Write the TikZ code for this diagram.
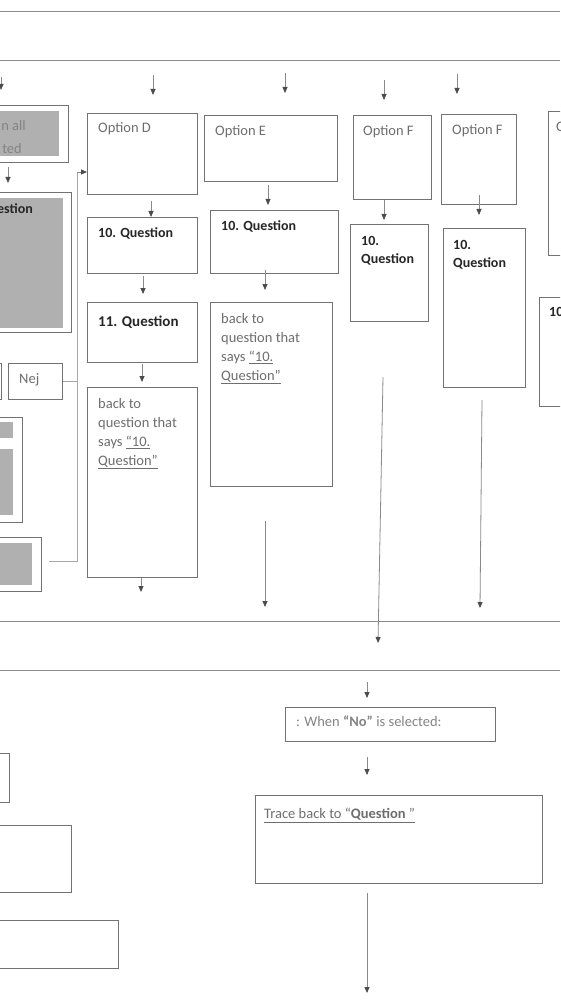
\documentclass[tikz,border=0pt]{standalone}
\usepackage{fontspec}
\setmainfont{Carlito}
\usepackage{tikz}
\usetikzlibrary{arrows.meta}
\usepackage{xcolor}

\definecolor{boxgray}{HTML}{727272}
\definecolor{linegray}{HTML}{8A8A8A}
\definecolor{fillgray}{HTML}{B0B0B0}
\definecolor{txtgray}{HTML}{6E6E6E}
\definecolor{headgray}{HTML}{4C4C4C}

\tikzset{
  box/.style={draw=boxgray, line width=1.2pt, rectangle, inner sep=0pt, anchor=north west},
  shadebox/.style={fill=fillgray, draw=none, rectangle, inner sep=0pt, anchor=north west},
  lbl/.style={anchor=north west, inner sep=0pt, text=txtgray, align=left, font=\fontsize{14.5}{19}\selectfont},
  qlbl/.style={lbl, text=black!85, font=\fontsize{14}{18}\selectfont\bfseries},
  arr/.style={draw=linegray, line width=0.8pt, -{Triangle[length=6pt,width=5pt,color=headgray]}},
  conn/.style={draw=linegray!75, line width=0.9pt},
  lane/.style={draw=linegray, line width=1pt}
}

\begin{document}
\begin{tikzpicture}[x=1pt,y=-1pt]
\useasboundingbox (0,0) rectangle (560,1000);
\clip (0,0) rectangle (560,1000);
\fill[white] (0,0) rectangle (560,1000);

% lanes
\draw[lane] (0,12)--(560,12);
\draw[lane] (0,61)--(560,61);
\draw[lane] (0,621)--(560,621);
\draw[lane] (0,670)--(560,670);

% left column (cut off)
\node[box, minimum width=88pt, minimum height=57pt] (selL) at (-20,105) {};
\node[shadebox, minimum width=79pt, minimum height=45pt] (selLs) at (-20,111) {};
\node[lbl, anchor=north east, text=txtgray!85] (selLa) at (26,120) {n all};
\node[lbl, anchor=north east, text=txtgray!85] (selLb) at (22,143) {ted};

\node[box, minimum width=91pt, minimum height=140pt] (qL) at (-20,192) {};
\node[shadebox, minimum width=83pt, minimum height=130pt] (qLs) at (-20,198) {};
\node[qlbl, anchor=north east] (qLt) at (33,203) {estion};

\node[box, minimum width=21pt, minimum height=36pt] (ja) at (-20,363) {};
\node[box, minimum width=54pt, minimum height=36pt] (nej) at (8,363) {};
\node[lbl] (nejt) at ([shift={(11,10)}]nej.north west) {Nej};

\node[box, minimum width=42pt, minimum height=105pt] (midL) at (-20,417) {};
\node[shadebox, minimum width=33pt, minimum height=16pt] (midLa) at (-20,422) {};
\node[shadebox, minimum width=33pt, minimum height=66pt] (midLb) at (-20,449) {};

\node[box, minimum width=61pt, minimum height=54pt] (lowL) at (-20,537) {};
\node[shadebox, minimum width=52pt, minimum height=42pt] (lowLs) at (-20,543) {};

% column D
\node[box, minimum width=110pt, minimum height=81pt] (optD) at (87,113) {};
\node[lbl] (optDt) at ([shift={(11,9)}]optD.north west) {Option D};
\node[box, minimum width=110pt, minimum height=56pt] (q10d) at (87,217) {};
\node[qlbl] (q10dt) at ([shift={(11,10)}]q10d.north west) {10. Question};
\node[box, minimum width=110pt, minimum height=60pt] (q11d) at (87,302) {};
\node[qlbl, font=\fontsize{15}{18}\selectfont\bfseries] (q11dt) at ([shift={(11,14)}]q11d.north west) {11. Question};
\node[box, minimum width=110pt, minimum height=190pt] (backd) at (87,387) {};
\node[lbl] (backdt) at ([shift={(11,11)}]backd.north west) {back to\\question that\\says \underline{“10.}\\\underline{Question”}};

% column E
\node[box, minimum width=133pt, minimum height=66pt] (optE) at (204,115) {};
\node[lbl] (optEt) at ([shift={(11,10)}]optE.north west) {Option E};
\node[box, minimum width=128pt, minimum height=63pt] (q10e) at (210,210) {};
\node[qlbl] (q10et) at ([shift={(11,10)}]q10e.north west) {10. Question};
\node[box, minimum width=122pt, minimum height=184pt] (backe) at (210,302) {};
\node[lbl] (backet) at ([shift={(11,11)}]backe.north west) {back to\\question that\\says \underline{“10.}\\\underline{Question”}};

% column F
\node[box, minimum width=78pt, minimum height=84pt] (optF) at (353,115) {};
\node[lbl] (optFt) at ([shift={(10,10)}]optF.north west) {Option F};
\node[box, minimum width=78pt, minimum height=97pt] (q10f) at (350,224) {};
\node[qlbl] (q10ft) at ([shift={(11,12)}]q10f.north west) {10.\\Question};

\node[box, minimum width=75pt, minimum height=90pt] (optG) at (441,114) {};
\node[lbl] (optGt) at ([shift={(11,10)}]optG.north west) {Option F};
\node[box, minimum width=82pt, minimum height=159pt] (q10g) at (443,228) {};
\node[qlbl] (q10gt) at ([shift={(10,12)}]q10g.north west) {10.\\Question};

% right column (cut off)
\node[box, minimum width=40pt, minimum height=144pt] (optR) at (548,111) {};
\node[lbl] (optRt) at ([shift={(8,11)}]optR.north west) {O};
\node[box, minimum width=40pt, minimum height=109pt] (q10r) at (539,297) {};
\node[qlbl] (q10rt) at ([shift={(10,10)}]q10r.north west) {10};

% lower part
\node[box, minimum width=210pt, minimum height=34pt] (noSel) at (285,707) {};
\node[lbl, text=txtgray!85] (noSelt) at ([shift={(11,9)}]noSel.north west) {: When \textbf{“No”} is selected:};
\node[box, minimum width=287pt, minimum height=88pt] (trace) at (255,795) {};
\node[lbl] (tracet) at ([shift={(9,13)}]trace.north west) {\underline{Trace back to “\textbf{Question} ”}};

\node[box, minimum width=29pt, minimum height=49pt] (bl1) at (-20,753) {};
\node[box, minimum width=91pt, minimum height=67pt] (bl2) at (-20,825) {};
\node[box, minimum width=138pt, minimum height=48pt] (bl3) at (-20,920) {};

% Nej loop back to Option D
\coordinate (jTop) at (77,172);
\coordinate (jBot) at (77,561);
\coordinate (jLow) at (49,561);
\draw[conn] (nej.east) -- (nej.east -| jTop);
\draw[conn] (jLow) -- (jBot) -- (jTop);
\draw[arr] (jTop) -- (jTop -| optD.west);

% top row arrows
\coordinate (tL) at (1,77);   \draw[arr] (tL) -- ++(0,13);
\coordinate (tD) at (153,75); \draw[arr] (tD) -- ++(0,20);
\coordinate (tE) at (285,73); \draw[arr] (tE) -- ++(0,20);
\coordinate (tF) at (384,80); \draw[arr] (tF) -- ++(0,20);
\coordinate (tG) at (457,74); \draw[arr] (tG) -- ++(0,20);

% left column
\coordinate (aL) at (8,167); \draw[arr] (aL) -- ++(0,16);

% column D
\coordinate (aD1) at (151,201); \draw[arr] (aD1) -- (aD1 |- q10d.north);
\coordinate (aD2) at (143,276); \draw[arr] (aD2) -- ++(0,18);
\coordinate (aD3) at (142,364); \draw[arr] (aD3) -- ++(0,18);
\coordinate (aD4) at (141,578); \draw[arr] (aD4) -- ++(0,14);

% column E
\coordinate (aE1) at (268,185); \draw[arr] (aE1) -- ++(0,20);
\coordinate (aE2) at (265,270); \draw[arr] (aE2) -- ++(0,20);
\coordinate (aE3) at (265,521); \draw[arr] (aE3) -- ++(0,86);

% column F
\coordinate (aF1) at (384,200); \draw[arr] (aF1) -- ++(0,20);
\coordinate (aF2) at (383,377); \draw[arr] (aF2) -- (378,643);
\coordinate (aG1) at (479,195); \draw[arr] (aG1) -- ++(0,20);
\coordinate (aG2) at (482,400); \draw[arr] (aG2) -- (480,608);

% lower part
\coordinate (aN1) at (367,682); \draw[arr] (aN1) -- ++(0,16);
\coordinate (aN2) at (367,757); \draw[arr] (aN2) -- ++(0,18);
\coordinate (aN3) at (367,893); \draw[arr] (aN3) -- ++(0,100);

\end{tikzpicture}
\end{document}
